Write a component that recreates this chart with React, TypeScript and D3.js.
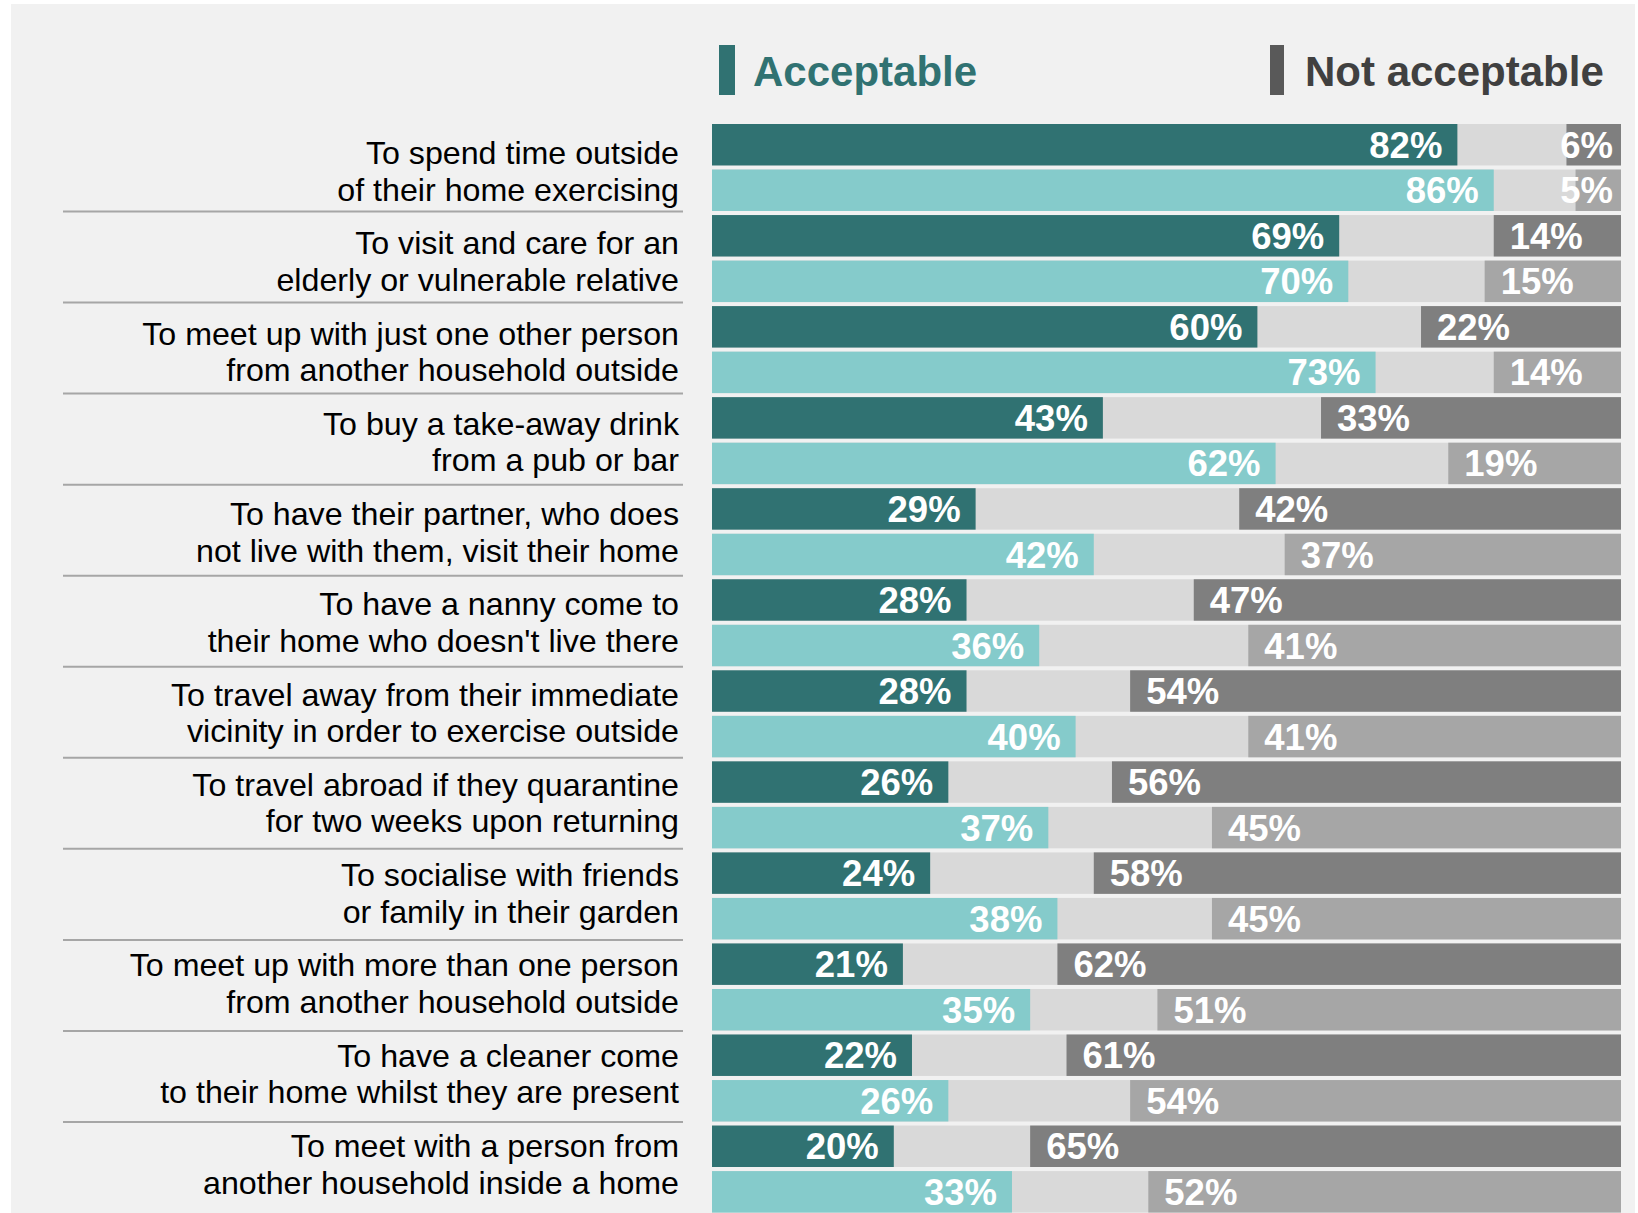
import React from "react";
import * as d3 from "d3";

const categories: string[][] = [
  ["To spend time outside", "of their home exercising"],
  ["To visit and care for an", "elderly or vulnerable relative"],
  ["To meet up with just one other person", "from another household outside"],
  ["To buy a take-away drink", "from a pub or bar"],
  ["To have their partner, who does", "not live with them, visit their home"],
  ["To have a nanny come to", "their home who doesn't live there"],
  ["To travel away from their immediate", "vicinity in order to exercise outside"],
  ["To travel abroad if they quarantine", "for two weeks upon returning"],
  ["To socialise with friends", "or family in their garden"],
  ["To meet up with more than one person", "from another household outside"],
  ["To have a cleaner come", "to their home whilst they are present"],
  ["To meet with a person from", "another household inside a home"],
];

const acceptableA = [82, 69, 60, 43, 29, 28, 28, 26, 24, 21, 22, 20];
const acceptableB = [86, 70, 73, 62, 42, 36, 40, 37, 38, 35, 26, 33];
const notAcceptableA = [6, 14, 22, 33, 42, 47, 54, 56, 58, 62, 61, 65];
const notAcceptableB = [5, 15, 14, 19, 37, 41, 41, 45, 45, 51, 54, 52];

const legendLabels = ["Acceptable", "Not acceptable"];

const W = 1638;
const H = 1213;
const FONT = "'Liberation Sans', Arial, sans-serif";

const C_ACC = ["#307272", "#85cbcb"];
const C_NOT = ["#7f7f7f", "#a6a6a6"];
const C_MID = "#d9d9d9";

let ctx: CanvasRenderingContext2D | null = null;
function textWidth(t: string, font: string) {
  if (!ctx) ctx = document.createElement("canvas").getContext("2d");
  if (!ctx) return t.length * 20;
  ctx.font = font;
  return ctx.measureText(t).width;
}

export default function App() {
  const x = d3.scaleLinear().domain([0, 100]).range([712, 1621]);
  const idx = d3.range(categories.length);
  const yGroup = d3
    .scaleBand<number>()
    .domain(idx)
    .range([124, 124 + categories.length * 91.05]);
  const ySub = d3.scaleBand<number>().domain([0, 1]).range([0, 87]).paddingInner(0.09);
  const labelY = d3.scaleLinear().domain([0, categories.length - 1]).range([164, 1157]);

  const valFS = 36.5;
  const valFont = `bold ${valFS}px ${FONT}`;

  const rows: any[] = [];
  idx.forEach((i) => {
    const pairs = [
      [acceptableA[i], notAcceptableA[i]],
      [acceptableB[i], notAcceptableB[i]],
    ];
    pairs.forEach(([acc, not], s) => {
      const y0 = (yGroup(i) as number) + (ySub(s) as number);
      const h = ySub.bandwidth();
      const cy = y0 + h / 2;
      const accEnd = x(acc);
      const notStart = x(100 - not);
      const accLabel = `${acc}%`;
      const notLabel = `${not}%`;
      const nw = textWidth(notLabel, valFont);
      const notX = Math.min(notStart + 16, x(100) - nw - 8);
      rows.push(
        <g key={`${i}-${s}`}>
          <rect x={x(0)} y={y0} width={x(100) - x(0)} height={h} fill={C_MID} />
          <rect x={x(0)} y={y0} width={accEnd - x(0)} height={h} fill={C_ACC[s]} />
          <rect x={notStart} y={y0} width={x(100) - notStart} height={h} fill={C_NOT[s]} />
          <text
            x={accEnd - 15}
            y={cy + valFS * 0.358}
            textAnchor="end"
            fontFamily={FONT}
            fontWeight="bold"
            fontSize={valFS}
            fill="#ffffff"
          >
            {accLabel}
          </text>
          <text
            x={notX}
            y={cy + valFS * 0.358}
            textAnchor="start"
            fontFamily={FONT}
            fontWeight="bold"
            fontSize={valFS}
            fill="#ffffff"
          >
            {notLabel}
          </text>
        </g>
      );
    });
  });

  return (
    <svg
      width={W}
      height={H}
      style={{ position: "absolute", left: 0, top: 0, display: "block" }}
    >
      <rect x={0} y={0} width={W} height={H} fill="#ffffff" />
      <rect x={11} y={4} width={W - 14} height={H - 4} fill="#f1f1f1" />

      {/* legend */}
      <rect x={719} y={45} width={16} height={50} fill={C_ACC[0]} />
      <text x={753} y={86} fontFamily={FONT} fontWeight="bold" fontSize={42} fill={C_ACC[0]}>
        {legendLabels[0]}
      </text>
      <rect x={1270} y={45} width={14} height={50} fill="#595959" />
      <text x={1305} y={86} fontFamily={FONT} fontWeight="bold" fontSize={42} fill="#404040">
        {legendLabels[1]}
      </text>

      {/* category labels */}
      {idx.map((i) => (
        <g key={`lab-${i}`}>
          {categories[i].map((line, k) => (
            <text
              key={k}
              x={679}
              y={labelY(i) + k * 36.5}
              textAnchor="end"
              fontFamily={FONT}
              fontSize={32.2}
              fill="#000000"
            >
              {line}
            </text>
          ))}
          {i < categories.length - 1 && (
            <line
              x1={63}
              x2={683}
              y1={(yGroup(i) as number) + 87.5}
              y2={(yGroup(i) as number) + 87.5}
              stroke="#a6a6a6"
              strokeWidth={2}
            />
          )}
        </g>
      ))}

      {rows}
    </svg>
  );
}
